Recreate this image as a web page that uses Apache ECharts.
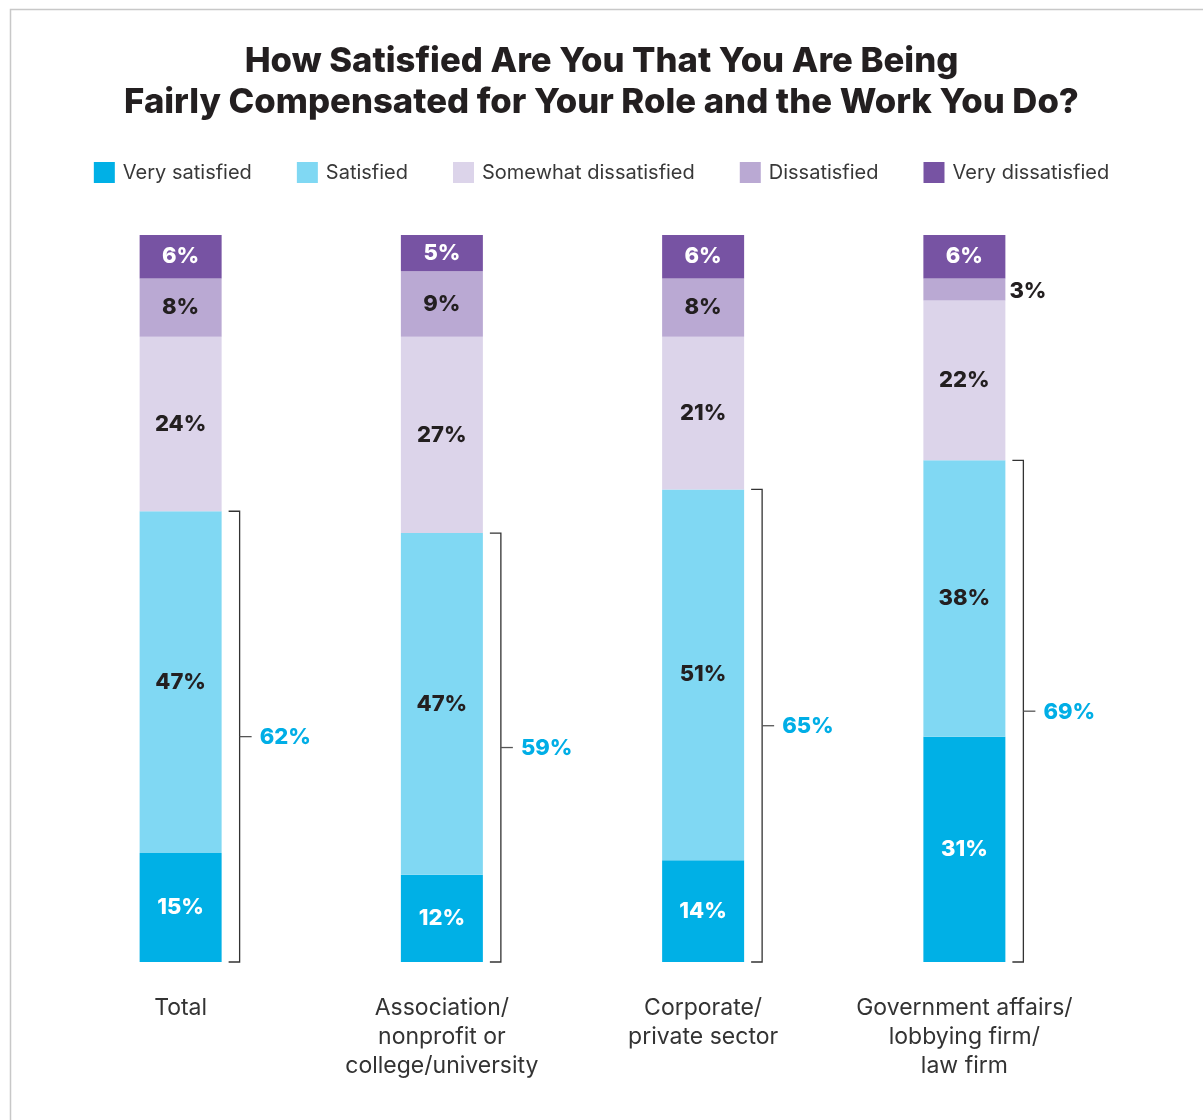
<!DOCTYPE html>
<html>
<head>
<meta charset="utf-8">
<title>Compensation satisfaction</title>
<script src="https://cdn.jsdelivr.net/npm/echarts@6/dist/echarts.min.js"></script>
<style>
  html, body { margin: 0; padding: 0; background: #fff; }
  #chart { width: 1203px; height: 1120px; }
</style>
</head>
<body>
<div id="chart"></div>
<script>
// Survey responses, percent of respondents per sector
const categories = [
  'Total',
  'Association/\nnonprofit or\ncollege/university',
  'Corporate/\nprivate sector',
  'Government affairs/\nlobbying firm/\nlaw firm'
];
const seriesNames = ['Very satisfied', 'Satisfied', 'Somewhat dissatisfied', 'Dissatisfied', 'Very dissatisfied'];
const verySatisfied = [15, 12, 14, 31];
const satisfied = [47, 47, 51, 38];
const somewhatDissatisfied = [24, 27, 21, 22];
const dissatisfied = [8, 9, 8, 3];
const veryDissatisfied = [6, 5, 6, 6];

const colors = ['#00B0E6', '#80D8F3', '#DCD4EA', '#BAA9D3', '#7753A3'];
const labelColors = ['#ffffff', '#231F20', '#231F20', '#231F20', '#ffffff'];
const FONT = 'Inter, Lato, sans-serif';

// Combined "satisfied" share, shown beside each bar with a bracket
const satisfiedTotal = verySatisfied.map((v, i) => v + satisfied[i]);

const valueSets = [verySatisfied, satisfied, somewhatDissatisfied, dissatisfied, veryDissatisfied];

const barSeries = valueSets.map((vals, s) => ({
  name: seriesNames[s],
  type: 'bar',
  stack: 'all',
  barWidth: 82,
  itemStyle: { color: colors[s] },
  data: vals.map((v, i) => {
    const item = { value: v };
    // thin segment: put its label outside the bar
    if (v < 4) {
      item.label = { position: 'right', distance: 4, offset: [0, 2], color: '#231F20' };
    }
    return item;
  }),
  label: {
    show: true,
    position: 'inside',
    formatter: '{c}%',
    color: labelColors[s],
    fontFamily: FONT,
    fontWeight: 800,
    fontSize: 22
  },
  emphasis: { disabled: true }
}));

const bracketSeries = {
  type: 'custom',
  silent: true,
  z: 5,
  data: satisfiedTotal.map((t, i) => [i, t]),
  renderItem: function (params, api) {
    const idx = api.value(0);
    const bottom = api.coord([idx, 0]);
    const top = api.coord([idx, api.value(1)]);
    const cx = bottom[0];
    const xCap = cx + 48;
    const xLine = cx + 59;
    const xTick = cx + 71;
    const yMid = (bottom[1] + top[1]) / 2;
    return {
      type: 'group',
      children: [
        {
          type: 'polyline',
          shape: { points: [[xCap, top[1]], [xLine, top[1]], [xLine, bottom[1]], [xCap, bottom[1]]] },
          style: { stroke: '#333', lineWidth: 1.3, fill: null }
        },
        {
          type: 'line',
          shape: { x1: xLine, y1: yMid, x2: xTick, y2: yMid },
          style: { stroke: '#555', lineWidth: 1.3 }
        },
        {
          type: 'text',
          style: {
            x: cx + 79,
            y: yMid + 1,
            text: api.value(1) + '%',
            fill: '#00AEE6',
            font: '800 22px ' + FONT,
            verticalAlign: 'middle',
            align: 'left'
          }
        }
      ]
    };
  }
};

const chart = echarts.init(document.getElementById('chart'), null, { renderer: 'canvas' });
chart.setOption({
  backgroundColor: '#ffffff',
  animation: false,
  title: {
    text: 'How Satisfied Are You That You Are Being\nFairly Compensated for Your Role and the Work You Do?',
    left: 'center',
    top: 41,
    padding: 0,
    textStyle: {
      fontFamily: FONT,
      fontWeight: 800,
      fontSize: 34.7,
      lineHeight: 41,
      color: '#231F20'
    }
  },
  legend: {
    data: seriesNames,
    top: 157,
    left: 'center',
    itemWidth: 21,
    itemHeight: 21,
    itemGap: 45,
    icon: 'rect',
    selectedMode: false,
    textStyle: {
      fontFamily: FONT,
      fontSize: 20,
      color: '#383838',
      padding: [0, 0, 0, 3]
    }
  },
  grid: { left: 50, right: 108, top: 235, bottom: 158, containLabel: false },
  xAxis: {
    type: 'category',
    data: categories,
    axisLine: { show: false },
    axisTick: { show: false },
    axisLabel: {
      margin: 32,
      interval: 0,
      fontFamily: FONT,
      fontSize: 23,
      lineHeight: 29,
      color: '#333',
      align: 'center'
    }
  },
  yAxis: {
    type: 'value',
    min: 0,
    max: 100,
    show: false
  },
  graphic: [
    {
      type: 'rect',
      left: 8,
      top: 7,
      silent: true,
      shape: { width: 1300, height: 1300 },
      style: { fill: null, stroke: '#c8c8c8', lineWidth: 1.5 }
    }
  ],
  series: [...barSeries, bracketSeries]
});
</script>
</body>
</html>
